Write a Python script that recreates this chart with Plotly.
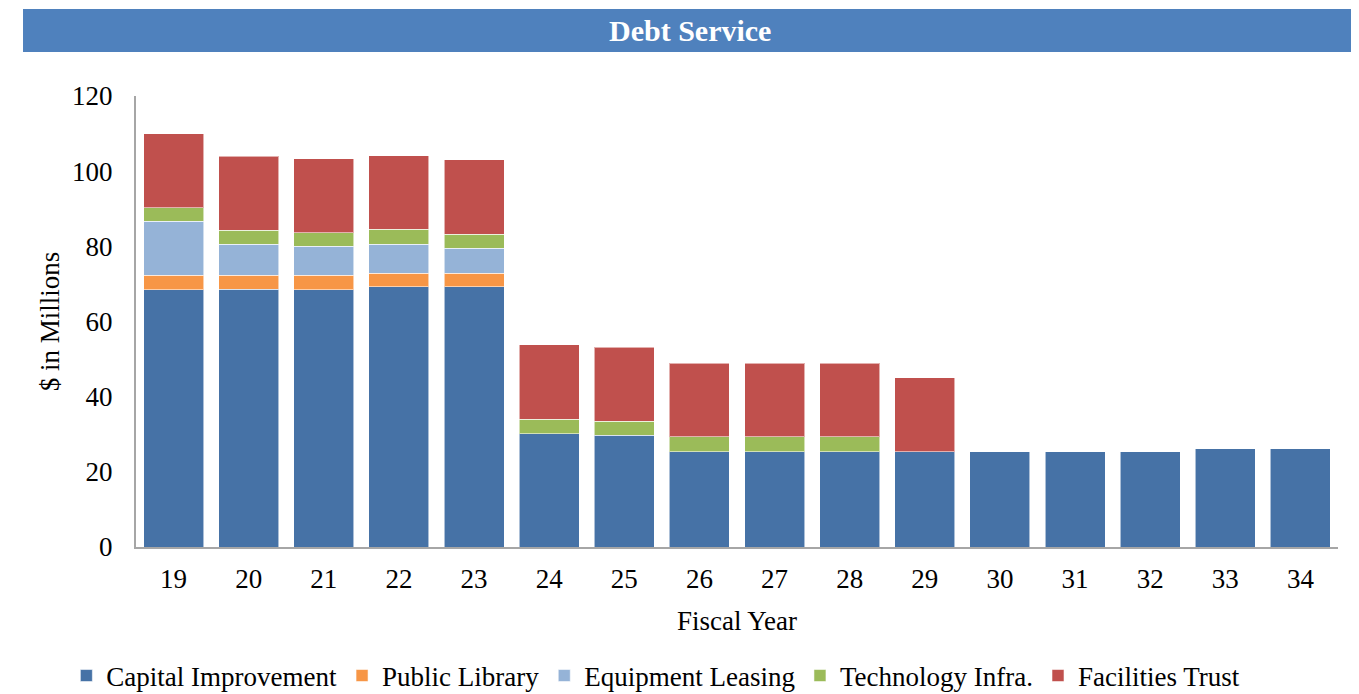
import plotly.graph_objects as go

# === Data ($ in millions) ===
years = ["19", "20", "21", "22", "23", "24", "25", "26", "27", "28", "29", "30", "31", "32", "33", "34"]
capital = [68.4, 68.6, 68.4, 69.2, 69.2, 30.2, 29.7, 25.4, 25.4, 25.4, 25.4, 25.4, 25.4, 25.4, 26.1, 26.1]
library = [3.9, 3.7, 3.9, 3.7, 3.7, None, None, None, None, None, None, None, None, None, None, None]
equipment = [14.4, 8.2, 7.7, 7.7, 6.6, None, None, None, None, None, None, None, None, None, None, None]
technology = [3.6, 3.8, 3.6, 3.9, 3.7, 3.8, 3.8, 3.9, 3.9, 3.9, None, None, None, None, None, None]
facilities = [19.7, 19.7, 19.7, 19.6, 19.9, 19.8, 19.6, 19.6, 19.6, 19.6, 19.7, None, None, None, None, None]

series = [
    ("Capital Improvement", capital, "#4672A6"),
    ("Public Library", library, "#F79646"),
    ("Equipment Leasing", equipment, "#95B3D7"),
    ("Technology Infra.", technology, "#9BBB59"),
    ("Facilities Trust", facilities, "#C0504D"),
]

FONT = "Liberation Serif, Times New Roman, serif"

fig = go.Figure()
for name, vals, color in series:
    fig.add_trace(go.Bar(
        x=years,
        y=vals,
        name=name,
        marker=dict(color=color, line=dict(color="rgba(255,255,255,0.55)", width=1)),
    ))

# title banner
fig.add_shape(type="rect", xref="paper", yref="paper",
              x0=-0.094, x1=1.0158, y0=1.0976, y1=1.1929,
              fillcolor="#4F81BD", line=dict(width=0), layer="above")
fig.add_annotation(xref="paper", yref="paper", x=0.461, y=1.1452,
                   text="<b>Debt Service</b>", showarrow=False,
                   font=dict(family=FONT, size=30, color="white"),
                   xanchor="center", yanchor="middle")

# page body has an 8px margin; extra height keeps the legend from squeezing the plot
fig.update_layout(
    barmode="stack",
    bargap=0.2,
    width=1351,
    height=720,
    margin=dict(l=128, r=21, t=88, b=181),
    paper_bgcolor="white",
    plot_bgcolor="white",
    font=dict(family=FONT, size=27, color="black"),
    xaxis=dict(
        type="category", automargin=False,
        showline=True, linecolor="#A6A6A6", linewidth=2,
        showgrid=False, ticks="", ticklabelstandoff=7,
        title=dict(text="Fiscal Year", standoff=18, font=dict(size=27)),
        tickfont=dict(size=27),
    ),
    yaxis=dict(
        range=[0, 120], dtick=20, automargin=False,
        showline=True, linecolor="#A6A6A6", linewidth=2,
        showgrid=False, zeroline=False, ticks="", ticklabelstandoff=16,
        title=dict(text="$ in Millions", standoff=5, font=dict(size=27)),
        tickfont=dict(size=27),
    ),
    legend=dict(
        orientation="h", x=0.4325, xanchor="center", y=-0.286, yanchor="middle",
        font=dict(size=27), traceorder="normal",
    ),
    showlegend=True,
)

fig.write_html("out.html")
